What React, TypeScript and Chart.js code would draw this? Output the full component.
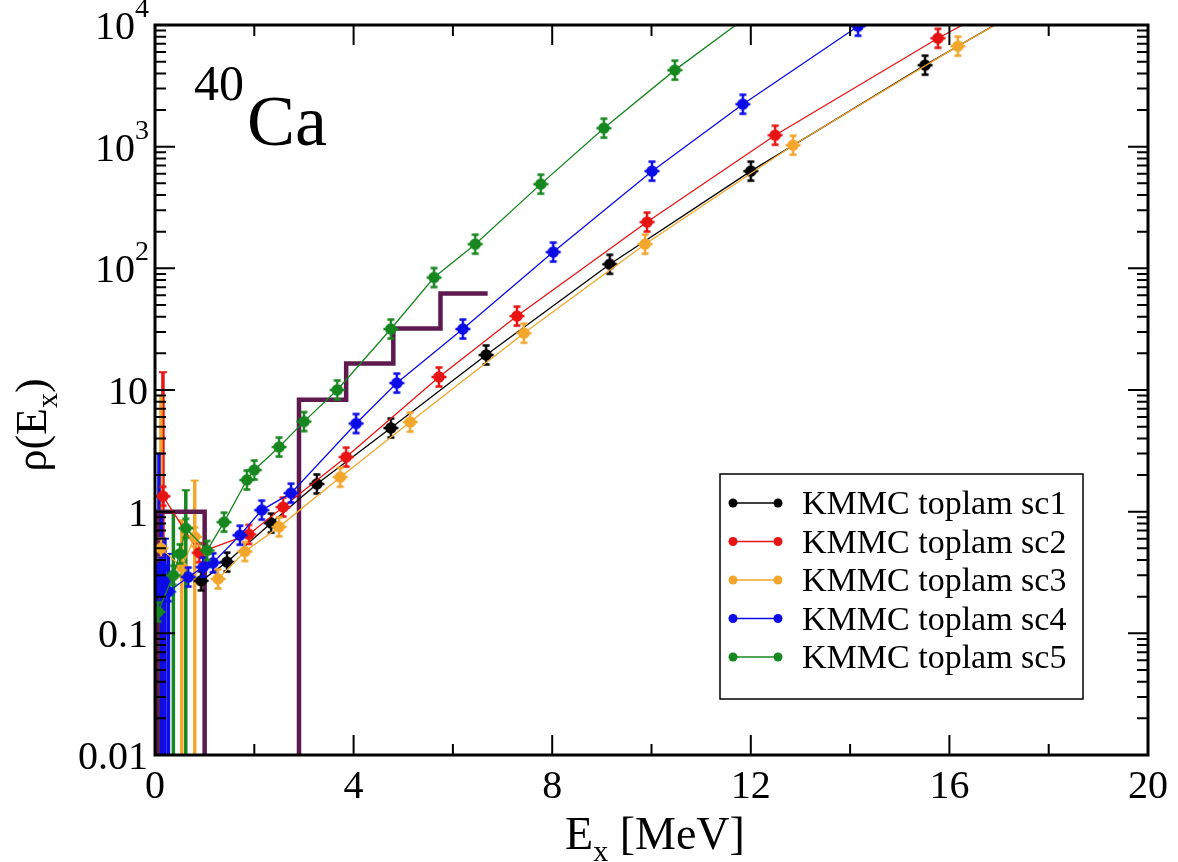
import React, { useEffect, useRef } from 'react';
import { Chart, registerables } from 'chart.js';

Chart.register(...registerables);

// Axis ticks
const xTickValues = [0, 4, 8, 12, 16, 20];
const xMinorTicks = [2, 6, 10, 14, 18];
const yTickValues = [0.01, 0.1, 1, 10, 100, 1000, 10000];
const yTickLabels = ['0.01', '0.1', '1', '10', '10^2', '10^3', '10^4'];

const seriesLabels = [
  'KMMC toplam sc1',
  'KMMC toplam sc2',
  'KMMC toplam sc3',
  'KMMC toplam sc4',
  'KMMC toplam sc5',
];
const seriesColors = ['#000000', '#e81414', '#f2a62c', '#0c0ce8', '#17871f'];
const histColor = '#5e1a4f';

// sc1
const sc1Energy = [0.93, 1.45, 2.34, 3.26, 4.75, 6.67, 9.16, 12.0, 15.51, 19.0];
const sc1Density = [0.27, 0.385, 0.806, 1.69, 4.87, 19.4, 108, 629, 4677, 31000];
const sc1ErrLow: (number | null)[] = [];
const sc1ErrHigh: (number | null)[] = [];

// sc2
const sc2Energy = [0.16, 0.89, 1.89, 2.58, 3.85, 5.72, 7.29, 9.91, 12.49, 15.77, 19.0];
const sc2Density = [1.34, 0.46, 0.65, 1.09, 2.81, 12.8, 40.5, 240, 1242, 7780, 40000];
const sc2ErrLow = [0.005];
const sc2ErrHigh = [14];

// sc3
const sc3Energy = [0.12, 0.54, 0.8, 1.27, 1.81, 2.5, 3.73, 5.14, 7.43, 9.87, 12.85, 16.17, 19.5];
const sc3Density = [0.5, 0.35, 0.62, 0.28, 0.47, 0.75, 1.92, 5.45, 29.3, 158, 1028, 6700, 39000];
const sc3ErrLow = [0.005, 0.005, 0.005];
const sc3ErrHigh = [9, 0.85, 1.8];

// sc4
const sc4Energy = [0.0, 0.04, 0.08, 0.13, 0.2, 0.27, 0.67, 0.97, 1.17, 1.71, 2.15, 2.74, 4.05, 4.87, 6.2, 8.02, 10.01, 11.84, 14.16];
const sc4Density = [0.16, 0.22, 0.3, 0.35, 0.28, 0.22, 0.29, 0.35, 0.38, 0.64, 1.03, 1.42, 5.3, 11.4, 31.7, 136, 629, 2234, 9770];
const sc4ErrLow = [null, 0.005, 0.005, 0.005, 0.005, 0.005];
const sc4ErrHigh = [null, 0.4, 3.0, 1.0, 0.6, 0.45];

// sc5
const sc5Energy = [0.06, 0.37, 0.5, 0.62, 1.05, 1.39, 1.85, 2.0, 2.5, 3.0, 3.67, 4.75, 5.62, 6.45, 7.77, 9.04, 10.47, 11.9];
const sc5Density = [0.15, 0.3, 0.45, 0.73, 0.48, 0.82, 1.82, 2.2, 3.4, 5.5, 10.0, 31.7, 84, 158, 492, 1419, 4256, 11500];
const sc5ErrLow = [0.005, 0.005, null, 0.005];
const sc5ErrHigh = [0.3, 1.0, null, 1.5];

// Experimental level-count histogram (bin edges and heights)
const histEdges = [0.05, 1.0, 2.9, 3.85, 4.8, 5.75, 6.7];
const histValues = [1, 0, 8.3, 16.5, 32, 62];
const histFloor = 1e-4;

const serifFont = '"Liberation Serif", "DejaVu Serif", serif';

function makeMarker(color: string): HTMLCanvasElement {
  const c = document.createElement('canvas');
  c.width = 22;
  c.height = 24;
  const g = c.getContext('2d')!;
  g.fillStyle = color;
  g.strokeStyle = color;
  g.lineWidth = 2.4;
  g.beginPath();
  g.arc(11, 12, 5.8, 0, Math.PI * 2);
  g.fill();
  g.beginPath();
  g.moveTo(11, 2);
  g.lineTo(11, 22);
  g.moveTo(7.5, 2.5);
  g.lineTo(14.5, 2.5);
  g.moveTo(7.5, 21.5);
  g.lineTo(14.5, 21.5);
  g.moveTo(3.5, 12);
  g.lineTo(18.5, 12);
  g.stroke();
  return c;
}

function buildSeries(
  idx: number,
  energy: number[],
  density: number[],
  errLow: (number | null)[],
  errHigh: (number | null)[]
) {
  const color = seriesColors[idx];
  return {
    label: seriesLabels[idx],
    data: energy.map((x, i) => ({ x, y: density[i] })),
    showLine: true,
    borderColor: color,
    backgroundColor: color,
    borderWidth: 1.3,
    pointStyle: makeMarker(color),
    pointRadius: 6,
    order: 5 - idx,
    clip: 0,
    errLow,
    errHigh,
  };
}

function drawMixed(
  ctx: CanvasRenderingContext2D,
  parts: { text: string; size: number; dy: number }[],
  x: number,
  y: number,
  align: 'left' | 'right' | 'center'
) {
  let total = 0;
  const widths = parts.map((p) => {
    ctx.font = `${p.size}px ${serifFont}`;
    const w = ctx.measureText(p.text).width;
    total += w;
    return w;
  });
  let cx = align === 'left' ? x : align === 'right' ? x - total : x - total / 2;
  ctx.textAlign = 'left';
  parts.forEach((p, i) => {
    ctx.font = `${p.size}px ${serifFont}`;
    ctx.fillText(p.text, cx, y + p.dy);
    cx += widths[i];
  });
}

const errorBarPlugin = {
  id: 'errorBars',
  beforeDatasetsDraw(chart: any) {
    const { ctx, chartArea } = chart;
    const xs = chart.scales.x;
    const ys = chart.scales.y;
    ctx.save();
    ctx.beginPath();
    ctx.rect(chartArea.left, chartArea.top, chartArea.right - chartArea.left, chartArea.bottom - chartArea.top);
    ctx.clip();
    chart.data.datasets.forEach((ds: any) => {
      if (!ds.errLow) return;
      ctx.strokeStyle = ds.borderColor;
      ds.data.forEach((pt: any, i: number) => {
        const lo = ds.errLow[i];
        const hi = ds.errHigh[i];
        if (lo == null || hi == null) return;
        const px = xs.getPixelForValue(pt.x);
        const y1 = ys.getPixelForValue(lo);
        const y2 = ys.getPixelForValue(hi);
        ctx.lineWidth = 3.5;
        ctx.beginPath();
        ctx.moveTo(px, Math.min(y1, chartArea.bottom + 5));
        ctx.lineTo(px, y2);
        ctx.stroke();
        ctx.lineWidth = 2;
        ctx.beginPath();
        ctx.moveTo(px - 4, y2);
        ctx.lineTo(px + 4, y2);
        ctx.stroke();
      });
    });
    ctx.restore();
  },
};

const framePlugin = {
  id: 'frameAndText',
  afterDraw(chart: any) {
    const { ctx, chartArea } = chart;
    const { left, right, top, bottom } = chartArea;
    const xs = chart.scales.x;
    const ys = chart.scales.y;
    ctx.save();
    ctx.strokeStyle = '#000';
    ctx.fillStyle = '#000';

    // inward tick marks on all four sides
    ctx.lineWidth = 2;
    const major = 20;
    const minor = 11;
    ctx.beginPath();
    xTickValues.forEach((v) => {
      const px = xs.getPixelForValue(v);
      ctx.moveTo(px, bottom);
      ctx.lineTo(px, bottom - major);
      ctx.moveTo(px, top);
      ctx.lineTo(px, top + major);
    });
    xMinorTicks.forEach((v) => {
      const px = xs.getPixelForValue(v);
      ctx.moveTo(px, bottom);
      ctx.lineTo(px, bottom - minor);
      ctx.moveTo(px, top);
      ctx.lineTo(px, top + minor);
    });
    for (let d = 0; d < yTickValues.length; d++) {
      const base = yTickValues[d];
      const py = ys.getPixelForValue(base);
      ctx.moveTo(left, py);
      ctx.lineTo(left + major, py);
      ctx.moveTo(right, py);
      ctx.lineTo(right - major, py);
      if (d < yTickValues.length - 1) {
        for (let m = 2; m <= 9; m++) {
          const my = ys.getPixelForValue(base * m);
          ctx.moveTo(left, my);
          ctx.lineTo(left + minor, my);
          ctx.moveTo(right, my);
          ctx.lineTo(right - minor, my);
        }
      }
    }
    ctx.stroke();

    // frame
    ctx.lineWidth = 3;
    ctx.strokeRect(left, top, right - left, bottom - top);

    // y tick labels
    ctx.textBaseline = 'alphabetic';
    yTickValues.forEach((v, i) => {
      const py = ys.getPixelForValue(v);
      const label = yTickLabels[i];
      if (label.includes('^')) {
        const [b, e] = label.split('^');
        drawMixed(
          ctx,
          [
            { text: b, size: 40, dy: 14 },
            { text: e, size: 28, dy: -8 },
          ],
          left - 6,
          py,
          'right'
        );
      } else {
        drawMixed(ctx, [{ text: label, size: 40, dy: 14 }], left - 7, py, 'right');
      }
    });

    // x axis title
    drawMixed(
      ctx,
      [
        { text: 'E', size: 46, dy: 0 },
        { text: 'x', size: 30, dy: 12 },
        { text: ' [MeV]', size: 46, dy: 0 },
      ],
      655,
      849,
      'center'
    );

    // y axis title
    ctx.save();
    ctx.translate(46, 425);
    ctx.rotate(-Math.PI / 2);
    drawMixed(
      ctx,
      [
        { text: 'ρ(E', size: 44, dy: 0 },
        { text: 'x', size: 30, dy: 11 },
        { text: ')', size: 44, dy: 0 },
      ],
      0,
      0,
      'center'
    );
    ctx.restore();

    // nucleus label
    drawMixed(ctx, [{ text: '40', size: 50, dy: 0 }], 194, 100, 'left');
    drawMixed(ctx, [{ text: 'Ca', size: 72, dy: 0 }], 247, 145, 'left');

    // legend
    const lx = 720;
    const ly = 474;
    const lw = 363;
    const lh = 225;
    ctx.fillStyle = '#fff';
    ctx.fillRect(lx, ly, lw, lh);
    ctx.lineWidth = 1.5;
    ctx.strokeStyle = '#000';
    ctx.strokeRect(lx, ly, lw, lh);
    seriesLabels.forEach((lab, i) => {
      const cy = 503 + i * 38.5;
      const col = seriesColors[i];
      ctx.strokeStyle = col;
      ctx.fillStyle = col;
      ctx.lineWidth = 1.5;
      ctx.beginPath();
      ctx.moveTo(733, cy);
      ctx.lineTo(778, cy);
      ctx.stroke();
      [733, 778].forEach((mx) => {
        ctx.beginPath();
        ctx.arc(mx, cy, 4.5, 0, Math.PI * 2);
        ctx.fill();
      });
      ctx.fillStyle = '#000';
      drawMixed(ctx, [{ text: lab, size: 34, dy: 11 }], 802, cy, 'left');
    });

    ctx.restore();
  },
};

export default function App() {
  const canvasRef = useRef<HTMLCanvasElement | null>(null);

  useEffect(() => {
    document.body.style.margin = '0';
    const canvas = canvasRef.current;
    if (!canvas) return;

    // step outline: start at the floor, rise to each bin height, end at the last edge
    const histPoints: { x: number; y: number }[] = [{ x: histEdges[0], y: histFloor }];
    histValues.forEach((v, i) => {
      histPoints.push({ x: histEdges[i], y: v > 0 ? v : histFloor });
    });
    histPoints.push({ x: histEdges[histEdges.length - 1], y: histValues[histValues.length - 1] });

    const datasets: any[] = [
      buildSeries(0, sc1Energy, sc1Density, sc1ErrLow, sc1ErrHigh),
      buildSeries(1, sc2Energy, sc2Density, sc2ErrLow, sc2ErrHigh),
      buildSeries(2, sc3Energy, sc3Density, sc3ErrLow, sc3ErrHigh),
      buildSeries(3, sc4Energy, sc4Density, sc4ErrLow, sc4ErrHigh),
      buildSeries(4, sc5Energy, sc5Density, sc5ErrLow, sc5ErrHigh),
      {
        label: 'exp',
        data: histPoints,
        showLine: true,
        stepped: 'before',
        borderColor: histColor,
        borderWidth: 4.5,
        pointRadius: 0,
        order: 10,
        clip: 0,
      },
    ];

    const chart = new Chart(canvas, {
      type: 'scatter',
      data: { datasets },
      options: {
        responsive: false,
        animation: false,
        devicePixelRatio: 1,
        events: [],
        layout: { padding: { top: 25, right: 30, left: 0, bottom: 0 } },
        plugins: { legend: { display: false }, tooltip: { enabled: false } },
        scales: {
          x: {
            type: 'linear',
            min: 0,
            max: 20,
            afterBuildTicks: (s: any) => {
              s.ticks = xTickValues.map((v) => ({ value: v }));
            },
            afterFit: (s: any) => {
              s.height = 107;
            },
            ticks: {
              autoSkip: false,
              maxRotation: 0,
              minRotation: 0,
              padding: 8,
              color: '#000',
              font: { family: serifFont, size: 40 },
              callback: (v: any) => String(v),
            },
            grid: { display: false, drawTicks: false },
            border: { display: false },
          },
          y: {
            type: 'logarithmic',
            min: 0.01,
            max: 10000,
            afterFit: (s: any) => {
              s.width = 155;
            },
            ticks: { display: false },
            grid: { display: false, drawTicks: false },
            border: { display: false },
          },
        },
      } as any,
      plugins: [errorBarPlugin, framePlugin],
    });

    return () => chart.destroy();
  }, []);

  return (
    <div style={{ width: 1178, height: 862 }}>
      <canvas ref={canvasRef} width={1178} height={862} style={{ display: 'block' }} />
    </div>
  );
}
